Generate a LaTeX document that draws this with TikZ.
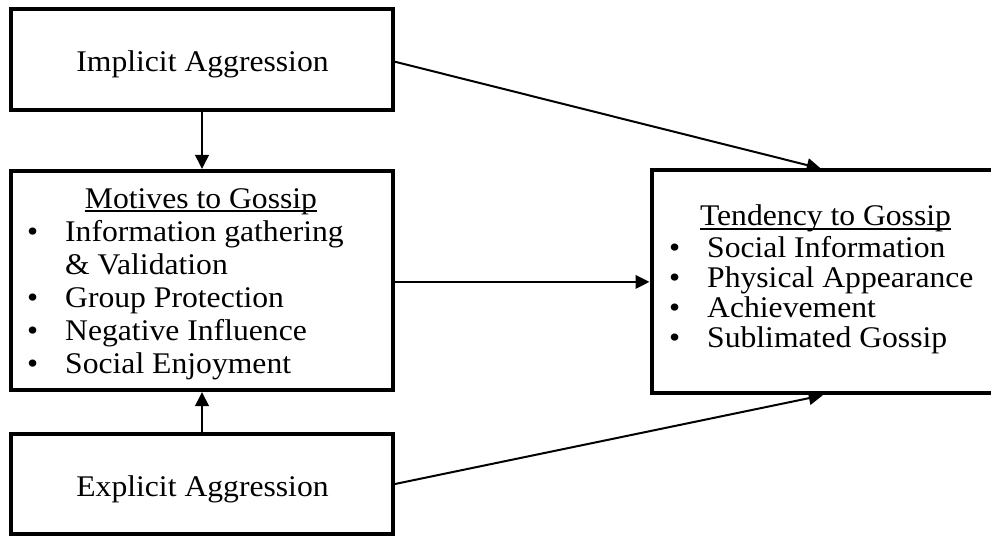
\documentclass[tikz,border=0pt]{standalone}
\usepackage{fontspec}
\setmainfont{Liberation Serif}[FakeStretch=1.055]
\usetikzlibrary{arrows.meta}
\begin{document}
\begin{tikzpicture}[x=1pt,y=-1pt,
  box/.style={draw, line width=4pt, inner sep=0pt},
  lbl/.style={inner sep=0pt, anchor=base, font=\fontsize{30}{33}\selectfont},
  lblt/.style={inner sep=0pt, anchor=base west, font=\fontsize{30}{30}\selectfont},
  lblm/.style={inner sep=0pt, anchor=base west, font=\fontsize{30}{33}\selectfont},
  conn/.style={line width=2pt, -{Triangle[length=14pt,width=13.5pt]}},
  uline/.style={line width=1.3pt}]
\useasboundingbox (0,0) rectangle (991,537);
\clip (0,0) rectangle (991,537);
% boxes
\node[box, minimum width=382pt, minimum height=101.5pt] (impl) at (202,59.75) {};
\node[box, minimum width=382.5pt, minimum height=219pt] (mot) at (201.75,280.5) {};
\node[box, minimum width=382pt, minimum height=100pt] (expl) at (202,484) {};
\node[box, minimum width=358.5pt, minimum height=222.8pt] (tend) at (830.75,281.9) {};
% texts
\node[lbl] (impltext) at (202.5,71.7) {Implicit Aggression};
\node[lbl] (expltext) at (202.5,496) {Explicit Aggression};
\node[lbl] (mtitle) at (201,208.3) {Motives to Gossip};
\draw[uline] ([yshift=-2.7pt]mtitle.base west) -- ([yshift=-2.7pt]mtitle.base east);
\node[lblm] (mlist) at (27,241.7) {\begin{tabular}[t]{@{}l@{}}
\makebox[38pt][l]{\textbullet}Information gathering\\
\makebox[38pt][l]{}\& Validation\\
\makebox[38pt][l]{\textbullet}Group Protection\\
\makebox[38pt][l]{\textbullet}Negative Influence\\
\makebox[38pt][l]{\textbullet}Social Enjoyment
\end{tabular}};
\node[lbl] (ttitle) at (825.5,226) {Tendency to Gossip};
\draw[uline] ([yshift=-3pt]ttitle.base west) -- ([yshift=-3pt]ttitle.base east);
\node[lblt] (tlist) at (669,258) {\begin{tabular}[t]{@{}l@{}}
\makebox[38pt][l]{\textbullet}Social Information\\
\makebox[38pt][l]{\textbullet}Physical Appearance\\
\makebox[38pt][l]{\textbullet}Achievement\\
\makebox[38pt][l]{\textbullet}Sublimated Gossip
\end{tabular}};
% connectors
\draw[conn] (impl.south) -- (impl.south |- mot.north);
\draw[conn] (expl.north) -- (expl.north |- mot.south);
\draw[conn] (mot.east |- tend.west) -- (tend.west);
\draw[conn] ([yshift=-2pt]impl.east) -- ([xshift=-10pt]tend.north);
\draw[conn] (expl.east) -- ([xshift=-8pt]tend.south);
\end{tikzpicture}
\end{document}
